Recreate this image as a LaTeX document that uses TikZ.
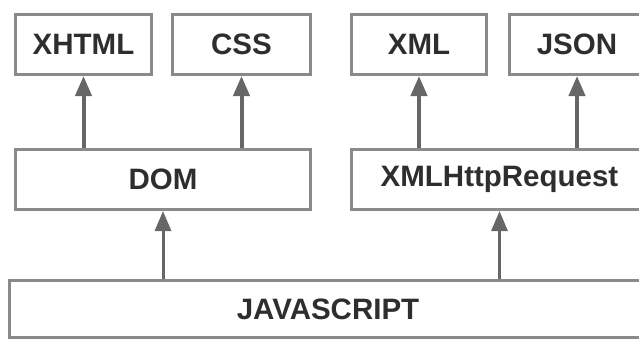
\documentclass[tikz,border=0pt]{standalone}
\usepackage{fontspec}
\setmainfont{Liberation Sans}
\usetikzlibrary{positioning, arrows.meta}
\usepackage{xcolor}
\definecolor{xframe}{HTML}{8A8A8A}
\definecolor{xarrow}{HTML}{666666}
\definecolor{xtext}{HTML}{2E2E2E}

\begin{document}
\begin{tikzpicture}[x=1pt, y=-1pt,
		label font/.style={font=\fontsize{29.5}{34}\selectfont\bfseries, text=xtext},
		layer/.style={draw=xframe, line width=3pt, fill=white, minimum height=60pt, inner sep=0pt, label font},
		uparrow/.style={draw=xarrow, line width=#1, -{Triangle[length=20pt, width=16pt]}},
	]
		\clip (0,0) rectangle (639,341);

		% top row
		\node[layer, minimum width=136pt] (xhtml) at (83.5,44.5) {XHTML};
		\node[layer, minimum width=138pt] (css) at (241.5,44.5) {CSS};
		\node[layer, minimum width=135pt] (xml) at (419,44.5) {XML};
		\node[layer, minimum width=135.5pt] (json) at (577,44.5) {JSON};

		% middle row
		\node[layer, minimum width=295pt] (dom) at (163,179.5) {DOM};
		\node[layer, minimum width=296.5pt] (xhr) at (499.5,179.5) {XMLHttpRequest};

		% base
		\node[layer, minimum width=640.5pt, minimum height=57pt] (jsbox) at (329.75,309) {};
		\node[label font] (js) at (328,309) {JAVASCRIPT};

		\draw[uparrow=4pt] (dom.north -| xhtml.south) -- (xhtml.south);
		\draw[uparrow=4pt] (dom.north -| css.south) -- (css.south);
		\draw[uparrow=4pt] (xhr.north -| xml.south) -- (xml.south);
		\draw[uparrow=4pt] (xhr.north -| json.south) -- (json.south);
		\draw[uparrow=3pt] (jsbox.north -| dom.south) -- (dom.south);
		\draw[uparrow=3pt] (jsbox.north -| xhr.south) -- (xhr.south);
	\end{tikzpicture}
\end{document}
